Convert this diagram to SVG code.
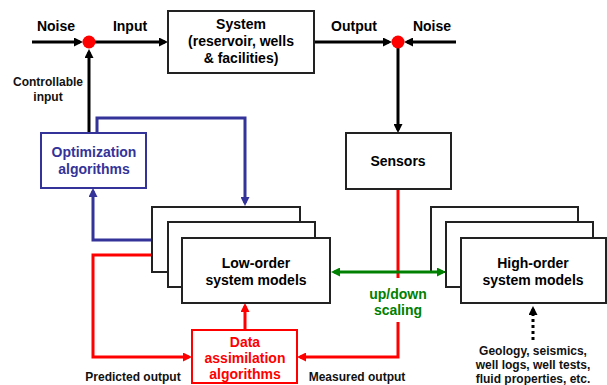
<svg xmlns="http://www.w3.org/2000/svg" width="607" height="385" viewBox="0 0 607 385">
<style>
text{font-family:"Liberation Sans",Arial,sans-serif;font-weight:bold;text-anchor:middle}
.t{font-size:14px;fill:#000}
.s{font-size:12px;fill:#111}
.g{font-size:12px;fill:#111}
.box{fill:#fff;stroke:#222;stroke-width:2}
.k{stroke:#000;stroke-width:3;fill:none}
.b{stroke:#333399;stroke-width:3;fill:none}
.r{stroke:#ff0000;stroke-width:3;fill:none}
.gr{stroke:#008000;stroke-width:3;fill:none}
</style>
<defs>
<marker id="ak" viewBox="0 0 10 10" refX="6.7" refY="5" markerWidth="9" markerHeight="9" markerUnits="userSpaceOnUse" orient="auto-start-reverse"><path d="M0,0L10,5L0,10z" fill="#000"/></marker>
<marker id="ab" viewBox="0 0 10 10" refX="6.7" refY="5" markerWidth="9" markerHeight="9" markerUnits="userSpaceOnUse" orient="auto-start-reverse"><path d="M0,0L10,5L0,10z" fill="#333399"/></marker>
<marker id="ar" viewBox="0 0 10 10" refX="6.7" refY="5" markerWidth="9" markerHeight="9" markerUnits="userSpaceOnUse" orient="auto-start-reverse"><path d="M0,0L10,5L0,10z" fill="#ff0000"/></marker>
<marker id="ag" viewBox="0 0 10 10" refX="6.7" refY="5" markerWidth="9" markerHeight="9" markerUnits="userSpaceOnUse" orient="auto-start-reverse"><path d="M0,0L10,5L0,10z" fill="#008000"/></marker>
</defs>
<rect width="607" height="385" fill="#fff"/>

<g id="connectors">
<path class="k" d="M32,42H80" marker-end="url(#ak)"/>
<path class="k" d="M95,42H165" marker-end="url(#ak)"/>
<path class="k" d="M314,42H389" marker-end="url(#ak)"/>
<path class="k" d="M456,42H407" marker-end="url(#ak)"/>
<path class="k" d="M398,48V130" marker-end="url(#ak)"/>
<path class="k" d="M89,133V52" marker-end="url(#ak)"/>
<path class="b" d="M97,133V118H245V203" marker-end="url(#ab)"/>
<path class="b" d="M152,240H93V191" marker-end="url(#ab)"/>
<path class="r" d="M152,255H93V357H189" marker-end="url(#ar)"/>
<path class="r" d="M245,330V306" marker-end="url(#ar)"/>
<path class="r" d="M398,189V278"/>
<path class="r" d="M398,322V357H300" marker-end="url(#ar)"/>
<path d="M533,340V309" stroke="#000" stroke-width="3" stroke-dasharray="3,3" fill="none" marker-end="url(#ak)"/>
</g>

<g id="noise-left"><text class="t" x="56" y="31">Noise</text></g>
<g id="input-label"><text class="t" x="130" y="31">Input</text></g>
<g id="sum-in"><circle cx="89" cy="42" r="6.5" fill="#ff0000"/></g>
<g id="sum-out"><circle cx="398" cy="42" r="6.5" fill="#ff0000"/></g>
<g id="output-label"><text class="t" x="354" y="31">Output</text></g>
<g id="noise-right"><text class="t" x="432" y="31">Noise</text></g>
<g id="controllable-label"><text class="s" x="48" y="86">Controllable</text><text class="s" x="48" y="101">input</text></g>

<g id="system">
<rect class="box" x="168" y="11" width="146" height="62"/>
<text class="t" x="241" y="29">System</text>
<text class="t" x="241" y="46">(reservoir, wells</text>
<text class="t" x="241" y="63">&amp; facilities)</text>
</g>

<g id="sensors">
<rect class="box" x="346" y="133" width="105" height="56"/>
<text class="t" x="398" y="166">Sensors</text>
</g>

<g id="optimization">
<rect x="41" y="133" width="105" height="55" fill="#fff" stroke="#333399" stroke-width="2"/>
<text class="t" x="94" y="157" style="fill:#333399">Optimization</text>
<text class="t" x="94" y="174" style="fill:#333399">algorithms</text>
</g>

<g id="low-order">
<rect class="box" x="152" y="207" width="148" height="65"/>
<rect class="box" x="168" y="222" width="147" height="65"/>
<rect class="box" x="182" y="238" width="148" height="65"/>
<text class="t" x="256" y="268">Low-order</text>
<text class="t" x="256" y="285">system models</text>
</g>

<g id="high-order">
<rect class="box" x="431" y="207" width="147" height="65"/>
<rect class="box" x="446" y="222" width="147" height="65"/>
<rect class="box" x="461" y="238" width="145" height="65"/>
<text class="t" x="533" y="268">High-order</text>
<text class="t" x="533" y="285">system models</text>
</g>

<g id="scaling">
<path class="gr" d="M334,272H443" marker-start="url(#ag)" marker-end="url(#ag)"/>
<text class="t" x="398" y="299" style="fill:#008000">up/down</text>
<text class="t" x="398" y="315" style="fill:#008000">scaling</text>
</g>

<g id="data-assimilation">
<rect x="192" y="330" width="105" height="53" fill="#fff" stroke="#ff0000" stroke-width="2"/>
<text class="t" x="245" y="347" style="fill:#ff0000">Data</text>
<text class="t" x="245" y="363" style="fill:#ff0000">assimilation</text>
<text class="t" x="245" y="379" style="fill:#ff0000">algorithms</text>
</g>

<g id="predicted-label"><text class="s" x="133" y="381">Predicted output</text></g>
<g id="measured-label"><text class="s" x="357" y="381">Measured output</text></g>
<g id="data-sources">
<text class="g" x="533" y="355">Geology, seismics,</text>
<text class="g" x="533" y="369">well logs, well tests,</text>
<text class="g" x="533" y="383">fluid properties, etc.</text>
</g>
</svg>
